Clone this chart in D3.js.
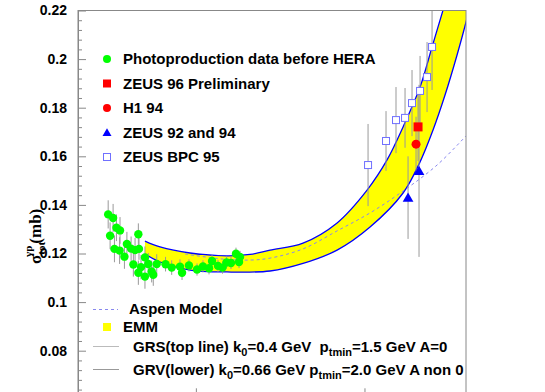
<!DOCTYPE html>
<html>
<head>
<meta charset="utf-8">
<script src="https://cdn.jsdelivr.net/npm/d3@7"></script>
<style>
body { margin: 0; background: #fff; }
svg { display: block; }
text { font-family: "Liberation Sans", Arial, Helvetica, sans-serif; font-weight: bold; }
</style>
</head>
<body>
<svg width="545" height="392"></svg>
<script>
// Photoproduction total cross section vs W (GeV), sigma in mb

// pre-HERA photoproduction data
var lowW = [3.02, 3.23, 3.38, 3.55, 3.10, 4.56, 3.29, 3.53, 3.77, 3.90, 4.13, 4.36, 4.60,
  4.26, 4.99, 5.22, 4.73, 4.56, 4.99, 5.47, 5.86, 5.59, 6.61, 7.19, 8.05, 8.28, 9.10,
  10.16, 11.02, 11.97, 12.47, 13.53, 14.39, 15.20, 16.16, 17.30, 18.28, 18.03];
var lowSigma = [0.1361, 0.1346, 0.1306, 0.1295, 0.1273, 0.1279, 0.1219, 0.1212, 0.1187, 0.1239, 0.1220, 0.1214, 0.1219,
  0.1155, 0.1184, 0.1157, 0.1144, 0.1121, 0.1105, 0.1126, 0.1157, 0.1112, 0.1156, 0.1142, 0.1146, 0.1121, 0.1151,
  0.1134, 0.1147, 0.1139, 0.1169, 0.1149, 0.1142, 0.1163, 0.1161, 0.1199, 0.1186, 0.1165];
var lowErr = [0.0058, 0.0058, 0.0055, 0.0055, 0.0055, 0.0045, 0.0055, 0.0055, 0.005, 0.005, 0.005, 0.005, 0.0045,
  0.005, 0.0045, 0.0045, 0.005, 0.005, 0.005, 0.0045, 0.004, 0.0045, 0.003, 0.003, 0.003, 0.003, 0.0025,
  0.0025, 0.0025, 0.0025, 0.0025, 0.0025, 0.0025, 0.0025, 0.0025, 0.0025, 0.0025, 0.0025];

// HERA measurements
var zeus96W = [207.8], zeus96Sigma = [0.1721], zeus96Err = [0.014];
var h1W = [202.2], h1Sigma = [0.165], h1Err = [0.0113];
var zeus9294W = [181.3, 210.6], zeus9294Sigma = [0.143, 0.154], zeus9294Err = [0.017, 0.0354];
var bpcW = [105.0, 134.2, 153.8, 174.0, 191.4, 213.6, 235.0, 251.6];
var bpcSigma = [0.1564, 0.1663, 0.1749, 0.1758, 0.1819, 0.1869, 0.1926, 0.2050];
var bpcErr = [0.0169, 0.0123, 0.0136, 0.0123, 0.0136, 0.0144, 0.0144, 0.0177];

// EMM band: GRS (top line) and GRV (lower line)
var grsW = [4.99, 6.13, 9.23, 15.30, 20.96, 27.54, 43.2, 68.8, 103.6, 136.1, 169.4, 213.6, 251.6, 292.4, 321.8];
var grsSigma = [0.1251, 0.1227, 0.1202, 0.1190, 0.1196, 0.1214, 0.1243, 0.1326, 0.1461, 0.1585, 0.1721, 0.1885, 0.2050, 0.2202, 0.2305];
var grvW = [4.99, 6.13, 9.23, 15.30, 27.54, 43.2, 68.8, 107.9, 169.4, 213.6, 255.0, 300.4, 354.0, 400.2, 422.7];
var grvSigma = [0.1198, 0.1165, 0.1132, 0.1124, 0.1128, 0.1159, 0.1214, 0.1309, 0.1449, 0.1577, 0.1708, 0.1852, 0.2017, 0.2153, 0.2223];

// Aspen model
var aspenW = [8.62, 14.49, 20.96, 27.54, 43.2, 68.8, 107.9, 169.4, 269.4, 400.2];
var aspenSigma = [0.1198, 0.1177, 0.1173, 0.1181, 0.1219, 0.1293, 0.1367, 0.1457, 0.1564, 0.1684];

// axis ticks (0.06 and the W labels sit below the visible area)
var yTicks = [0.08, 0.1, 0.12, 0.14, 0.16, 0.18, 0.2, 0.22];
var yTickLabels = ["0.08", "0.1", "0.12", "0.14", "0.16", "0.18", "0.2", "0.22"];
var xTicks = [10, 100];

// legend texts
var dataLegend = ["Photoproduction data before HERA", "ZEUS 96 Preliminary", "H1 94", "ZEUS 92 and 94", "ZEUS BPC 95"];

var svg = d3.select("svg"),
  width = +svg.attr("width"),
  height = +svg.attr("height");

var frame = {left: 78, right: 466, top: 10.5, bottom: 399.3};

var x = d3.scaleLog().domain([2, 400]).range([frame.left, frame.right]);
var y = d3.scaleLinear().domain([0.06, 0.22]).range([frame.bottom, frame.top]);

function zip(ws, ss, es) {
  return ws.map(function (w, i) { return {w: w, s: ss[i], e: es ? es[i] : 0}; });
}

svg.append("clipPath").attr("id", "plot-clip")
  .append("rect")
  .attr("x", frame.left).attr("y", frame.top)
  .attr("width", frame.right - frame.left).attr("height", frame.bottom - frame.top);

var plot = svg.append("g").attr("clip-path", "url(#plot-clip)");

// band
var line = d3.line()
  .x(function (d) { return x(d.w); })
  .y(function (d) { return y(d.s); })
  .curve(d3.curveCatmullRom);

var upper = zip(grsW, grsSigma), lower = zip(grvW, grvSigma);
var bandPath = line(upper) + line(lower.slice().reverse()).replace(/^M/, "L") + "Z";

plot.append("path").attr("d", bandPath).attr("fill", "#ffff00").attr("stroke", "none");
plot.append("path").attr("d", line(upper)).attr("fill", "none").attr("stroke", "#0000ff").attr("stroke-width", 1.3);
plot.append("path").attr("d", line(lower)).attr("fill", "none").attr("stroke", "#0000ff").attr("stroke-width", 1.3);

// Aspen model
plot.append("path").attr("d", line(zip(aspenW, aspenSigma)))
  .attr("fill", "none").attr("stroke", "#8888ee").attr("stroke-width", 1)
  .attr("stroke-dasharray", "3,3");

// error bars
var allPoints = zip(lowW, lowSigma, lowErr)
  .concat(zip(bpcW, bpcSigma, bpcErr))
  .concat(zip(zeus96W, zeus96Sigma, zeus96Err))
  .concat(zip(h1W, h1Sigma, h1Err))
  .concat(zip(zeus9294W, zeus9294Sigma, zeus9294Err));

plot.append("g").selectAll("line")
  .data(allPoints)
  .enter()
  .append("line")
  .attr("x1", function (d) { return x(d.w); })
  .attr("x2", function (d) { return x(d.w); })
  .attr("y1", function (d) { return y(d.s - d.e); })
  .attr("y2", function (d) { return y(d.s + d.e); })
  .attr("stroke", "#999")
  .attr("stroke-width", 1);

// markers
plot.append("g").selectAll("circle")
  .data(zip(lowW, lowSigma))
  .enter()
  .append("circle")
  .attr("cx", function (d) { return x(d.w); })
  .attr("cy", function (d) { return y(d.s); })
  .attr("r", 4.2)
  .attr("fill", "#00ff00");

plot.append("g").selectAll("rect")
  .data(zip(bpcW, bpcSigma))
  .enter()
  .append("rect")
  .attr("x", function (d) { return x(d.w) - 3.5; })
  .attr("y", function (d) { return y(d.s) - 3.5; })
  .attr("width", 7).attr("height", 7)
  .attr("fill", "#fff").attr("stroke", "#7070ff").attr("stroke-width", 1);

plot.append("g").selectAll("rect")
  .data(zip(zeus96W, zeus96Sigma))
  .enter()
  .append("rect")
  .attr("x", function (d) { return x(d.w) - 4.5; })
  .attr("y", function (d) { return y(d.s) - 4.5; })
  .attr("width", 9).attr("height", 9)
  .attr("fill", "#ff0000");

plot.append("g").selectAll("circle")
  .data(zip(h1W, h1Sigma))
  .enter()
  .append("circle")
  .attr("cx", function (d) { return x(d.w); })
  .attr("cy", function (d) { return y(d.s); })
  .attr("r", 4.5)
  .attr("fill", "#ff0000");

var triangle = d3.symbol().type(d3.symbolTriangle).size(50);
plot.append("g").selectAll("path")
  .data(zip(zeus9294W, zeus9294Sigma))
  .enter()
  .append("path")
  .attr("d", triangle)
  .attr("transform", function (d) { return "translate(" + x(d.w) + "," + (y(d.s) + 1) + ")"; })
  .attr("fill", "#0000ff");

// frame and axes
svg.append("rect")
  .attr("x", frame.left).attr("y", frame.top)
  .attr("width", frame.right - frame.left).attr("height", frame.bottom - frame.top)
  .attr("fill", "none").attr("stroke", "#888").attr("stroke-width", 1);

var yAxis = svg.append("g")
  .attr("transform", "translate(" + frame.left + ",0)")
  .call(d3.axisLeft(y).tickValues(yTicks)
    .tickFormat(function (d, i) { return yTickLabels[i]; })
    .tickSizeInner(-8).tickSizeOuter(0).tickPadding(11));

var minorTicks = d3.range(0.06, 0.2201, 0.004).filter(function (v) {
  return Math.abs(v / 0.02 - Math.round(v / 0.02)) > 0.01;
});
var yMinor = svg.append("g")
  .attr("transform", "translate(" + frame.left + ",0)")
  .call(d3.axisLeft(y).tickValues(minorTicks).tickFormat("").tickSizeInner(-4).tickSizeOuter(0));

var xAxis = svg.append("g")
  .attr("transform", "translate(0," + frame.bottom + ")")
  .call(d3.axisBottom(x).tickValues(xTicks).tickFormat("")
    .tickSizeInner(-11).tickSizeOuter(0));

[yAxis, yMinor, xAxis].forEach(function (g) {
  g.select(".domain").attr("stroke", "#888");
  g.selectAll(".tick line").attr("stroke", "#888");
  g.selectAll("text")
    .attr("font-size", 14).attr("font-weight", "bold")
    .attr("font-family", "'Liberation Sans', Arial, Helvetica, sans-serif")
    .attr("fill", "#000");
});

// y axis title
var yTitle = svg.append("text")
  .attr("transform", "translate(41,264) rotate(-90)")
  .style("font-family", "'Liberation Serif', 'Times New Roman', serif")
  .style("font-size", "17px");
yTitle.append("tspan").text("σ");
yTitle.append("tspan").attr("dy", 4).style("font-size", "11px").text("tot");
yTitle.append("tspan").attr("dx", -15).attr("dy", -13).style("font-size", "11px").text("γp");
yTitle.append("tspan").attr("dx", 2).attr("dy", 9).text("(mb)");

// data legend
var legendY = d3.scaleLinear().domain([0, 4]).range([59, 157]);
var legend = svg.append("g");

legend.selectAll("text")
  .data(dataLegend)
  .enter()
  .append("text")
  .attr("x", 123)
  .attr("y", function (d, i) { return legendY(i) + 5; })
  .attr("font-size", 15)
  .text(function (d) { return d; });

legend.append("circle").attr("cx", 107).attr("cy", legendY(0)).attr("r", 4).attr("fill", "#00ff00");
legend.append("rect").attr("x", 103).attr("y", legendY(1) - 4).attr("width", 8).attr("height", 8).attr("fill", "#ff0000");
legend.append("circle").attr("cx", 107).attr("cy", legendY(2)).attr("r", 4).attr("fill", "#ff0000");
legend.append("path").attr("d", d3.symbol().type(d3.symbolTriangle).size(35))
  .attr("transform", "translate(107," + (legendY(3) + 1) + ")").attr("fill", "#0000ff");
legend.append("rect").attr("x", 103.5).attr("y", legendY(4) - 3.5).attr("width", 7).attr("height", 7)
  .attr("fill", "#fff").attr("stroke", "#7070ff");

// model legend
var model = svg.append("g");
model.append("line").attr("x1", 93).attr("x2", 118).attr("y1", 309.5).attr("y2", 309.5)
  .attr("stroke", "#8888ee").attr("stroke-dasharray", "3,3");
model.append("text").attr("x", 129).attr("y", 314).attr("font-size", 15).text("Aspen Model");

model.append("rect").attr("x", 103).attr("y", 323).attr("width", 8).attr("height", 8).attr("fill", "#ffff00");
model.append("text").attr("x", 123).attr("y", 332).attr("font-size", 15).text("EMM");

model.append("line").attr("x1", 93).attr("x2", 119).attr("y1", 346.5).attr("y2", 346.5).attr("stroke", "#bbb");
model.append("line").attr("x1", 93).attr("x2", 119).attr("y1", 369.5).attr("y2", 369.5).attr("stroke", "#999");

function richText(sel, xPos, yPos, parts) {
  var t = sel.append("text").attr("x", xPos).attr("y", yPos).attr("font-size", 15)
    .style("white-space", "pre");
  var shifted = false;
  parts.forEach(function (p) {
    var ts = t.append("tspan").text(p[0]);
    if (p[1] === "sub") {
      ts.attr("dy", 4).attr("font-size", 11);
      shifted = true;
    } else if (shifted) {
      ts.attr("dy", -4);
      shifted = false;
    }
  });
  return t;
}

richText(model, 133, 352, [
  ["GRS(top line) k"], ["0", "sub"], ["=0.4 GeV  p"], ["tmin", "sub"], ["=1.5 GeV A=0"]
]);
richText(model, 133, 375, [
  ["GRV(lower) k"], ["0", "sub"], ["=0.66 GeV p"], ["tmin", "sub"], ["=2.0 GeV A non 0"]
]);
</script>
</body>
</html>
